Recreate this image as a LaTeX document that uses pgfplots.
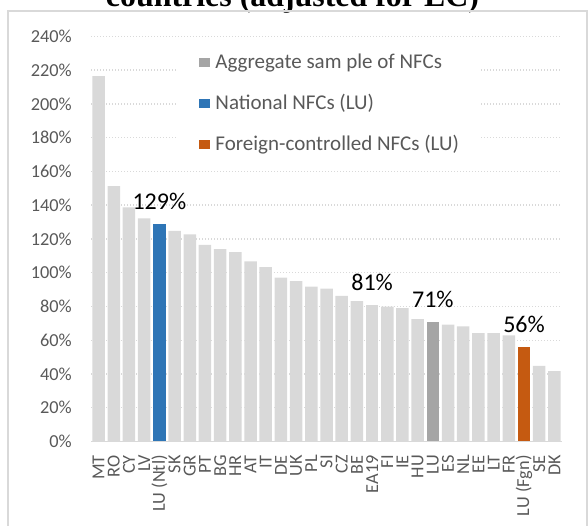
\documentclass[border=0pt]{standalone}
\usepackage{fontspec}
\setmainfont{Carlito}
\newfontfamily\titlefont{Liberation Serif}
\usepackage{pgfplots}
\pgfplotsset{compat=1.18}
\pgfkeys{/pgf/number format/assume math mode=true}
\definecolor{barlight}{HTML}{D9D9D9}
\definecolor{bardark}{HTML}{A5A5A5}
\definecolor{barblue}{HTML}{2E75B6}
\definecolor{barorange}{HTML}{C55A11}
\definecolor{txtgray}{HTML}{595959}
\definecolor{gridgray}{HTML}{D9D9D9}
\pgfplotsset{
  mybar/.style={ybar, bar width=12.5pt, bar shift=0pt, draw=none,
    legend image code/.code={\fill[##1,draw=none] (0pt,-6pt) rectangle (11pt,3pt);}},
  mylabel/.style={nodes near coords={\pgfmathprintnumber[fixed,precision=0]{\pgfplotspointmeta}\%},
    every node near coord/.append style={font=\fontsize{24}{26}\selectfont, text=black, anchor=south, inner sep=0pt, yshift=14pt}}
}
\begin{document}
\begin{tikzpicture}[x=1pt,y=1pt]
\useasboundingbox (0,0) rectangle (588,525);
\clip (0,0) rectangle (588,525);
\node[font=\titlefont\bfseries\fontsize{31.9}{34}\selectfont, anchor=base, inner sep=0pt] at (292.5,518.3) {countries (adjusted for EC)};
\draw[gridgray, line width=1.3pt] (8,-5) -- (8,514) -- (587,514) -- (587,-5);
\begin{axis}[
  scale only axis, width=471pt, height=405pt,
  at={(91pt,83.6pt)}, anchor=south west,
  xmin=-0.5, xmax=30.5, ymin=0, ymax=240,
  axis line style={draw=none},
  ymajorgrids,
  grid style={gridgray, line width=1.3pt, dash pattern=on 1.4pt off 1.6pt},
  ytick={0,20,...,240},
  yticklabel={\pgfmathprintnumber{\tick}\%},
  xtick={0,...,30},
  xticklabels={MT,RO,CY,LV,LU (Ntl),SK,GR,PT,BG,HR,AT,IT,DE,UK,PL,SI,CZ,BE,EA19,FI,IE,HU,LU,ES,NL,EE,LT,FR,LU (Fgn),SE,DK},
  major tick length=0pt,
  tick style={draw=none},
  ticklabel style={font=\fontsize{18.3}{20}\selectfont, text=txtgray},
  yticklabel style={anchor=east, inner sep=0pt},
  yticklabel shift=19pt,
  xticklabel style={rotate=90, anchor=east, inner sep=0pt},
  xticklabel shift=13.6pt,
  extra y ticks={0}, extra y tick labels={},
  extra y tick style={grid style={solid, gridgray, line width=1.3pt}},
  legend style={at={(0.1832,1.0002)}, anchor=north west, draw=none, fill=white,
    inner xsep=22pt, inner ysep=12pt, row sep=17pt, column sep=5pt,
    font=\fontsize{21}{23}\selectfont, text=txtgray,
    nodes={inner sep=0pt, text height=20pt, text depth=4pt}},
  legend cell align=left,
]
\addplot[mybar, fill=barlight, forget plot] coordinates {
(0,216.5) (1,151.3) (2,138.7) (3,132.2) (5,124.7) (6,122.7) (7,116.4) (8,114.0)
(9,112.1) (10,106.7) (11,103.3) (12,97.0) (13,95.0) (14,91.7) (15,90.5) (16,86.3)
(17,83.2) (19,79.8) (20,79.0) (21,72.5) (23,69.2) (24,68.2) (25,64.1) (26,64.1)
(27,62.9) (29,44.7) (30,41.7)};
\addplot[mybar, fill=barlight, forget plot, mylabel] coordinates {(18,81)};
\addplot[mybar, fill=bardark, mylabel] coordinates {(22,71)};
\addlegendentry{Aggregate sam ple of NFCs}
\addplot[mybar, fill=barblue, mylabel] coordinates {(4,129)};
\addlegendentry{National NFCs (LU)}
\addplot[mybar, fill=barorange, mylabel] coordinates {(28,56)};
\addlegendentry{Foreign-controlled NFCs (LU)}
\end{axis}
\end{tikzpicture}
\end{document}
